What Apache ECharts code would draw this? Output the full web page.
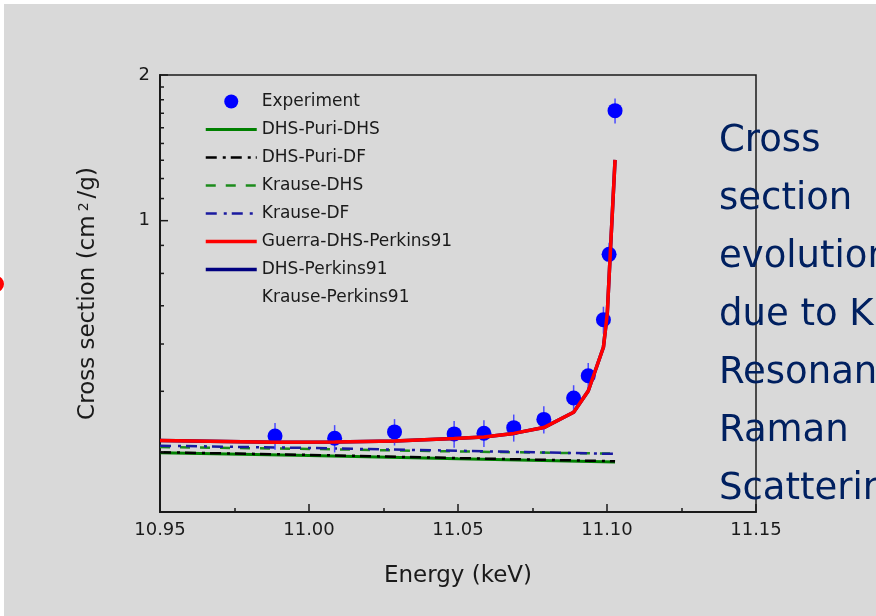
<!DOCTYPE html>
<html>
<head>
<meta charset="utf-8">
<script src="https://cdn.jsdelivr.net/npm/echarts@6/dist/echarts.min.js"></script>
<style>
html,body{margin:0;padding:0;background:#ffffff;}
#chart{width:876px;height:616px;}
</style>
</head>
<body>
<div id="chart"></div>
<script>
// ---------- data ----------
const xMin = 10.95, xMax = 11.15, xStep = 0.05;
const yMin = 0.25, yMax = 2;
const yLabels = [1, 2];
const yMinorTicks = [0.333, 0.444, 0.556, 0.667, 0.778, 0.889, 1.111, 1.222, 1.333, 1.444, 1.556, 1.667, 1.778, 1.889];

const energyExp = [10.9886, 11.0086, 11.0287, 11.0487, 11.0587, 11.0687, 11.0788, 11.0888, 11.0937, 11.0988, 11.1007, 11.1027];
const sigmaExp  = [0.359, 0.355, 0.366, 0.3625, 0.3637, 0.3735, 0.3884, 0.430, 0.478, 0.624, 0.852, 1.688];
const errExp    = [0.023, 0.023, 0.023, 0.023, 0.023, 0.024, 0.025, 0.027, 0.030, 0.040, 0.048, 0.100];

const energyModel = [10.95, 10.9886, 11.0086, 11.0287, 11.0487, 11.0587, 11.0687, 11.0788, 11.0888, 11.0937, 11.0988, 11.1001, 11.1011, 11.1027];
const guerraDhsPerkins91 = [0.3515, 0.3484, 0.349, 0.3506, 0.3548, 0.3573, 0.3634, 0.3736, 0.4018, 0.4446, 0.5476, 0.6437, 0.856, 1.335];
const dhsPerkins91 = [0.3515, 0.3484, 0.349, 0.3506, 0.3548, 0.3573, 0.3634, 0.3736, 0.4018, 0.4446, 0.5476, 0.6437, 0.856, 1.335];
const krausePerkins91 = [0.3515, 0.3484, 0.349, 0.3506, 0.3548, 0.3573, 0.3634, 0.3736, 0.4018, 0.4446, 0.5476, 0.6437, 0.856, 1.335];

const energyLine = [10.95, 11.00, 11.05, 11.1027];
const dhsPuriDhs = [0.3316, 0.3272, 0.3221, 0.3172];
const dhsPuriDf  = [0.3322, 0.3281, 0.3231, 0.3183];
const krauseDhs  = [0.3406, 0.3375, 0.3335, 0.3300];
const krauseDf   = [0.3427, 0.3391, 0.3346, 0.3296];

const legendNames = ['Experiment', 'DHS-Puri-DHS', 'DHS-Puri-DF', 'Krause-DHS', 'Krause-DF', 'Guerra-DHS-Perkins91', 'DHS-Perkins91', 'Krause-Perkins91'];
const sideText = ['Cross', 'section', 'evolution', 'due to K', 'Resonant', 'Raman', 'Scattering'];

// ---------- build ----------
const FONT = 'DejaVu Sans';
const AX = '#1a1a1a';
const zip = (xs, ys) => xs.map((x, i) => [x, ys[i]]);

const styles = {
  'DHS-Puri-DHS': { color: '#008000', width: 3, type: 'solid' },
  'DHS-Puri-DF': { color: '#000000', width: 2.5, type: [11, 6, 3, 5] },
  'Krause-DHS': { color: '#1c8c1c', width: 2.5, type: [10, 10] },
  'Krause-DF': { color: '#1a1aa0', width: 2.5, type: [11, 7, 3, 5] },
  'Guerra-DHS-Perkins91': { color: '#ff0000', width: 3.5, type: 'solid' },
  'DHS-Perkins91': { color: '#000080', width: 3.5, type: 'solid' },
  'Krause-Perkins91': { color: '#000080', width: 3, type: 'solid', opacity: 0 }
};

function lineSeries(name, xs, ys, z) {
  const s = styles[name];
  const op = s.opacity == null ? 1 : s.opacity;
  return {
    name: name, type: 'line', data: zip(xs, ys), symbol: 'none', z: z,
    lineStyle: { color: s.color, width: s.width, type: s.type, opacity: op },
    itemStyle: { color: s.color, opacity: op },
    emphasis: { disabled: true }
  };
}

const chart = echarts.init(document.getElementById('chart'), null, { renderer: 'canvas' });

const option = {
  animation: false,
  backgroundColor: '#ffffff',
  textStyle: { fontFamily: FONT },
  graphic: [
    { type: 'rect', z: -100, silent: true, shape: { x: 4, y: 4, width: 880, height: 620 }, style: { fill: '#d9d9d9' } },
    { type: 'circle', z: -50, silent: true, shape: { cx: -4, cy: 284, r: 8 }, style: { fill: '#ff0000' } },
    { type: 'text', z: 100, left: 719, top: 112, silent: true,
      style: { text: sideText.join('\n'), fill: '#002060', font: '37px "DejaVu Sans"', lineHeight: 58 } }
  ],
  grid: { left: 160, right: 120, top: 75, bottom: 104, show: true, borderColor: AX, borderWidth: 1.5, backgroundColor: 'transparent' },
  legend: {
    data: legendNames.map(n => {
      if (n === 'Experiment') return { name: n, icon: 'circle', itemStyle: { opacity: 1, color: '#0000ff' } };
      const s = styles[n];
      return { name: n, itemStyle: { opacity: 0 },
        lineStyle: { width: s.width, color: s.color, type: s.type, opacity: s.opacity == null ? 1 : s.opacity } };
    }),
    orient: 'vertical', left: 204, top: 93, padding: 0,
    itemWidth: 51, itemHeight: 14, itemGap: 11,
    textStyle: { fontFamily: FONT, fontSize: 17, color: '#1a1a1a' },
    selectedMode: false
  },
  xAxis: {
    type: 'value', min: xMin, max: xMax, interval: xStep,
    name: 'Energy (keV)', nameLocation: 'middle', nameGap: 53,
    nameTextStyle: { fontFamily: FONT, fontSize: 23, color: '#1a1a1a' },
    axisLine: { lineStyle: { color: AX, width: 2 } },
    axisTick: { inside: true, length: 8, lineStyle: { color: AX, width: 1.5 } },
    minorTick: { show: true, splitNumber: 2, length: 4, lineStyle: { color: AX, width: 1.5 } },
    axisLabel: { fontFamily: FONT, fontSize: 18, color: '#1a1a1a', margin: 9, formatter: v => v.toFixed(2) },
    splitLine: { show: false }
  },
  yAxis: {
    type: 'log', logBase: 2, min: yMin, max: yMax, splitNumber: 3,
    name: 'Cross section (cm{sup|2}/g)', nameLocation: 'middle', nameGap: 60,
    nameTextStyle: { fontFamily: FONT, fontSize: 23, color: '#1a1a1a',
      rich: { sup: { fontFamily: FONT, fontSize: 14, color: '#1a1a1a', verticalAlign: 'top', padding: [0, 4, 8, 4] } } },
    axisLine: { show: true, lineStyle: { color: AX, width: 2 } },
    axisTick: { show: false },
    minorTick: { show: false },
    axisLabel: { fontFamily: FONT, fontSize: 18, color: '#1a1a1a', margin: 10,
      formatter: v => { const t = yLabels.find(l => Math.abs(l - v) < 1e-6); return t == null ? '' : String(t); } },
    splitLine: { show: false }
  },
  series: [
    {
      type: 'custom', silent: true, z: 5,
      data: yLabels.map(v => [xMin, v, 8]).concat(yMinorTicks.map(v => [xMin, v, 4])),
      renderItem: (params, api) => {
        const p = api.coord([api.value(0), api.value(1)]);
        const len = api.value(2);
        return { type: 'line', shape: { x1: p[0], y1: p[1], x2: p[0] + len, y2: p[1] },
          style: { stroke: AX, lineWidth: 1.5 } };
      }
    },
    lineSeries('DHS-Puri-DHS', energyLine, dhsPuriDhs, 2),
    lineSeries('DHS-Puri-DF', energyLine, dhsPuriDf, 3),
    lineSeries('Krause-DHS', energyLine, krauseDhs, 2),
    lineSeries('Krause-DF', energyLine, krauseDf, 3),
    lineSeries('DHS-Perkins91', energyModel, dhsPerkins91, 3),
    lineSeries('Krause-Perkins91', energyModel, krausePerkins91, 1),
    {
      type: 'custom', silent: true, z: 6,
      data: energyExp.map((x, i) => [x, sigmaExp[i], errExp[i]]),
      renderItem: (params, api) => {
        const x = api.value(0), y = api.value(1), e = api.value(2);
        const a = api.coord([x, y + e]);
        const b = api.coord([x, y - e]);
        return { type: 'line', shape: { x1: a[0], y1: a[1], x2: b[0], y2: b[1] },
          style: { stroke: '#4a4aff', lineWidth: 1.5 } };
      }
    },
    {
      name: 'Experiment', type: 'scatter', data: zip(energyExp, sigmaExp), z: 7,
      symbol: 'circle', symbolSize: 15,
      itemStyle: { color: '#0000ff', opacity: 1 }, emphasis: { disabled: true }
    },
    lineSeries('Guerra-DHS-Perkins91', energyModel, guerraDhsPerkins91, 8)
  ]
};
chart.setOption(option);
</script>
</body>
</html>
